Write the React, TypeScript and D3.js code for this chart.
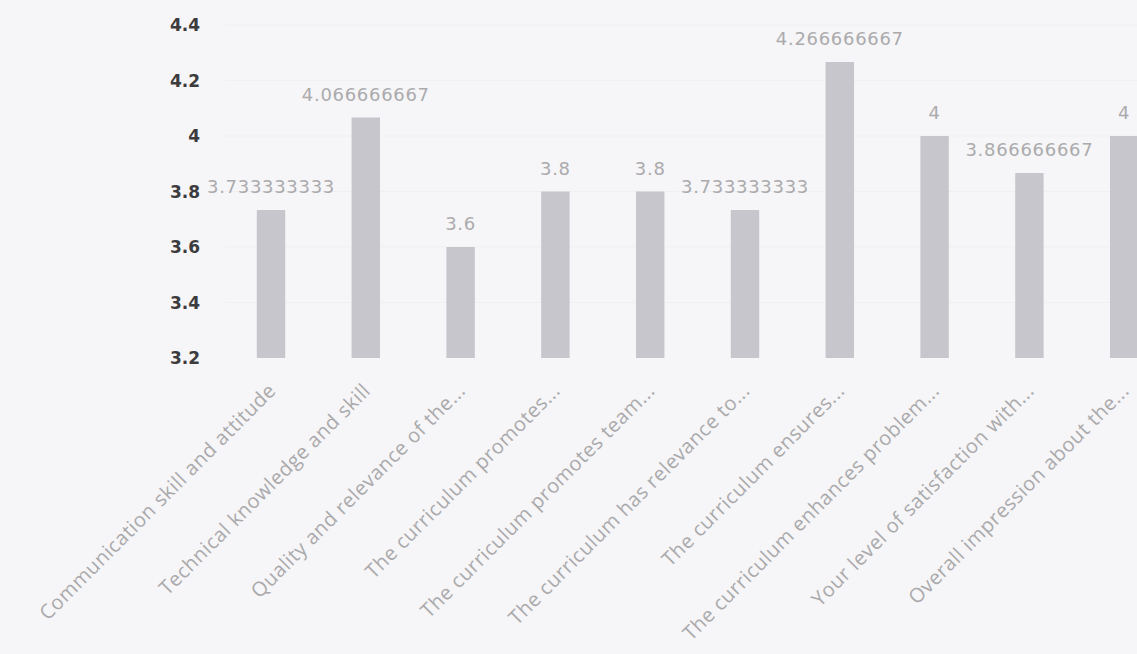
import * as d3 from "d3";

const categories = [
  "Communication skill and attitude",
  "Technical knowledge and skill",
  "Quality and relevance of the...",
  "The curriculum promotes...",
  "The curriculum promotes team...",
  "The curriculum has relevance to...",
  "The curriculum ensures...",
  "The curriculum enhances problem...",
  "Your level of satisfaction with...",
  "Overall impression about the...",
];

const values = [3.733333333, 4.066666667, 3.6, 3.8, 3.8, 3.733333333, 4.266666667, 4, 3.866666667, 4];
const valueLabels = ["3.733333333", "4.066666667", "3.6", "3.8", "3.8", "3.733333333", "4.266666667", "4", "3.866666667", "4"];
const yTicks = [3.2, 3.4, 3.6, 3.8, 4, 4.2, 4.4];

const W = 1137;
const H = 654;

export default function App() {
  const y = d3.scaleLinear().domain([3.2, 4.4]).range([358, 25]);
  const x = d3
    .scaleBand<string>()
    .domain(categories)
    .range([223.6, 1171.6])
    .paddingInner(0.7)
    .paddingOuter(0.35);
  const bw = x.bandwidth();

  return (
    <svg
      width={W}
      height={H}
      style={{ position: "absolute", left: 0, top: 0, overflow: "hidden" }}
    >
      <rect width={W} height={H} fill="#f6f5f7" />

      {/* faint gridlines */}
      {yTicks.slice(1).map((t) => (
        <line key={t} x1={225} x2={W} y1={y(t)} y2={y(t)} stroke="#f0eff2" strokeWidth={1} />
      ))}

      {/* y axis labels */}
      {yTicks.map((t) => (
        <text
          key={t}
          x={200}
          y={y(t)}
          dy="0.36em"
          textAnchor="end"
          fontFamily="DejaVu Sans"
          fontWeight="bold"
          fontSize={17}
          fill="#3c3c3e"
        >
          {d3.format("~g")(t)}
        </text>
      ))}

      {/* bars */}
      {categories.map((c, i) => (
        <rect
          key={c}
          x={x(c)}
          y={y(values[i])}
          width={bw}
          height={y(3.2) - y(values[i])}
          fill="#c8c6cd"
        />
      ))}

      {/* value labels */}
      {categories.map((c, i) => (
        <text
          key={c}
          x={(x(c) || 0) + bw / 2}
          y={y(values[i]) - 17}
          textAnchor="middle"
          fontFamily="DejaVu Sans"
          fontSize={18}
          letterSpacing={0.7}
          fill="#ababad"
        >
          {valueLabels[i]}
        </text>
      ))}

      {/* category labels */}
      {categories.map((c) => {
        const cx = (x(c) || 0) + bw / 2 + 6;
        const cy = y(3.2) + 34;
        return (
          <text
            key={c}
            transform={`translate(${cx},${cy}) rotate(-45)`}
            textAnchor="end"
            fontFamily="Open Sans"
            fontSize={20}
            letterSpacing={0.5}
            fill="#aaaaac"
          >
            {c}
          </text>
        );
      })}
    </svg>
  );
}
